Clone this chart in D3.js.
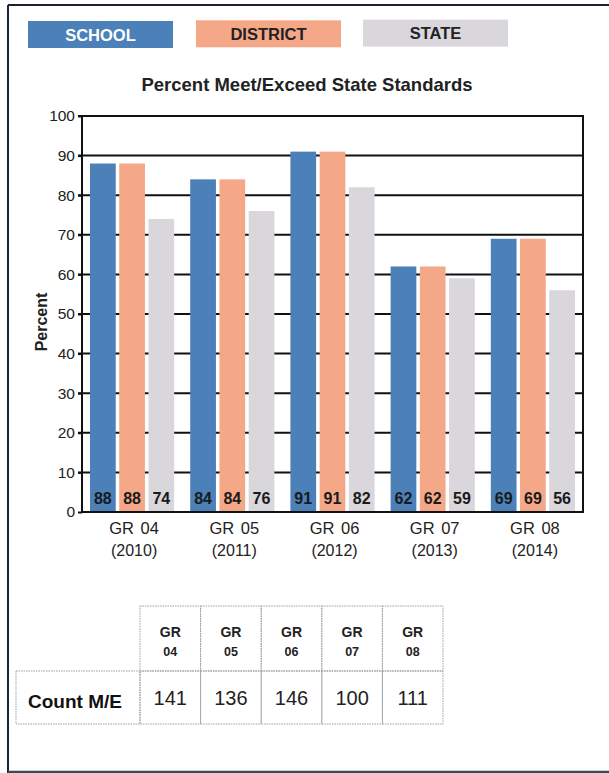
<!DOCTYPE html>
<html>
<head>
<meta charset="utf-8">
<script src="https://cdn.jsdelivr.net/npm/d3@7"></script>
<style>
  html, body { margin: 0; padding: 0; background: #fff; }
  svg { display: block; font-family: "Liberation Sans", Arial, sans-serif; }
</style>
</head>
<body>
<svg id="chart" width="609" height="773"></svg>
<script>
// Grade groups and their test years
const grades = ["GR 04", "GR 05", "GR 06", "GR 07", "GR 08"];
const years = ["(2010)", "(2011)", "(2012)", "(2013)", "(2014)"];
const seriesNames = ["SCHOOL", "DISTRICT", "STATE"];

// Percent meeting / exceeding standards
const school = [88, 84, 91, 62, 69];
const district = [88, 84, 91, 62, 69];
const state = [74, 76, 82, 59, 56];

const yTicks = [0, 10, 20, 30, 40, 50, 60, 70, 80, 90, 100];

// Count meeting / exceeding table
const tableGrades = ["04", "05", "06", "07", "08"];
const counts = [141, 136, 146, 100, 111];

const colors = ["#4b80b8", "#f5a887", "#d9d6dc"];
const textColors = ["#ffffff", "#222222", "#222222"];

const svg = d3.select("#chart");

// page frame
svg.append("line").attr("x1", 8).attr("x2", 609).attr("y1", 5).attr("y2", 5)
  .attr("stroke", "#1b2233").attr("stroke-width", 2);
svg.append("line").attr("x1", 8).attr("x2", 8).attr("y1", 5).attr("y2", 773)
  .attr("stroke", "#1b2540").attr("stroke-width", 2);
svg.append("line").attr("x1", 8).attr("x2", 609).attr("y1", 772).attr("y2", 772)
  .attr("stroke", "#3a4a50").attr("stroke-width", 2.5);

// legend boxes
const legendX = d3.scaleOrdinal().domain(seriesNames).range([28, 196, 363]);
const legend = svg.append("g").selectAll("g").data(seriesNames).join("g")
  .attr("transform", (d, i) => `translate(${legendX(d)},${21 - i * 0.7})`);
legend.append("rect").attr("width", 145).attr("height", 27)
  .attr("fill", (d, i) => colors[i]);
legend.append("text").attr("x", 72.5).attr("y", 19.5)
  .attr("text-anchor", "middle").attr("font-size", 16.5).attr("font-weight", "bold")
  .attr("fill", (d, i) => textColors[i]).text(d => d);

// title
svg.append("text").attr("x", 307).attr("y", 91).attr("text-anchor", "middle")
  .attr("font-size", 18.5).attr("font-weight", "bold").attr("fill", "#222")
  .text("Percent Meet/Exceed State Standards");

// scales
const plot = { left: 82, right: 583, top: 116, bottom: 512 };
const y = d3.scaleLinear().domain([0, 100]).range([plot.bottom, plot.top]);
const x0 = d3.scaleBand().domain(grades).range([plot.left, plot.right])
  .paddingInner(0.16).paddingOuter(0.08);
const x1 = d3.scaleBand().domain(seriesNames).range([0, x0.bandwidth()])
  .paddingInner(0.12).paddingOuter(0);

// horizontal grid lines
svg.append("g").selectAll("line").data(yTicks.filter(t => t > 0)).join("line")
  .attr("x1", plot.left - 4).attr("x2", plot.right)
  .attr("y1", d => y(d)).attr("y2", d => y(d))
  .attr("stroke", "#111").attr("stroke-width", 2);

// y axis
const yAxis = svg.append("g").attr("transform", `translate(${plot.left},0)`)
  .call(d3.axisLeft(y).tickValues(yTicks).tickSize(4).tickPadding(3));
yAxis.select(".domain").remove();
yAxis.selectAll("line").attr("stroke", "#111").attr("stroke-width", 2);
yAxis.selectAll("text").attr("font-size", 15.5).attr("fill", "#222")
  .attr("font-family", "Liberation Sans, Arial, sans-serif");

svg.append("text")
  .attr("transform", `translate(47,${(plot.top + plot.bottom) / 2 + 8}) rotate(-90)`)
  .attr("text-anchor", "middle").attr("font-size", 16).attr("font-weight", "bold")
  .attr("fill", "#222").text("Percent");

// bars
const rows = grades.map((g, i) => ({
  grade: g,
  values: [school[i], district[i], state[i]]
}));
const groups = svg.append("g").selectAll("g").data(rows).join("g")
  .attr("transform", d => `translate(${x0(d.grade)},0)`);
groups.selectAll("rect").data(d => d.values.map((v, i) => ({ key: seriesNames[i], v, i })))
  .join("rect")
  .attr("x", d => x1(d.key)).attr("width", x1.bandwidth())
  .attr("y", d => y(d.v)).attr("height", d => y(0) - y(d.v))
  .attr("fill", d => colors[d.i]);
groups.selectAll("text").data(d => d.values.map((v, i) => ({ key: seriesNames[i], v, i })))
  .join("text")
  .attr("x", d => x1(d.key) + x1.bandwidth() / 2).attr("y", y(0) - 8)
  .attr("text-anchor", "middle").attr("font-size", 16).attr("font-weight", "bold")
  .attr("fill", "#1a1a1a").text(d => d.v);

// plot frame
svg.append("rect").attr("x", plot.left).attr("y", plot.top)
  .attr("width", plot.right - plot.left).attr("height", plot.bottom - plot.top)
  .attr("fill", "none").attr("stroke", "#111").attr("stroke-width", 2);

// x axis labels
const xl = svg.append("g").selectAll("g").data(grades).join("g")
  .attr("transform", d => `translate(${x0(d) + x0.bandwidth() / 2 + 2},0)`);
xl.append("text").attr("y", 534).attr("text-anchor", "middle").attr("font-size", 16.5)
  .attr("word-spacing", 2).attr("fill", "#222").text(d => d);
xl.append("text").attr("y", 556).attr("text-anchor", "middle").attr("font-size", 16)
  .attr("fill", "#222").text((d, i) => years[i]);

// count table
const colX = d3.scaleBand().domain(tableGrades).range([140, 443]);
const headTop = 606, rowTop = 671, rowBottom = 724;
const tbl = svg.append("g");
const cellStroke = "#9aa0aa";
tableGrades.forEach(g => {
  tbl.append("rect").attr("x", colX(g)).attr("y", headTop)
    .attr("width", colX.bandwidth()).attr("height", rowTop - headTop)
    .attr("fill", "none").attr("stroke", cellStroke).attr("stroke-dasharray", "1.5,1");
  tbl.append("rect").attr("x", colX(g)).attr("y", rowTop)
    .attr("width", colX.bandwidth()).attr("height", rowBottom - rowTop)
    .attr("fill", "none").attr("stroke", cellStroke).attr("stroke-dasharray", "1.5,1");
});
tbl.append("rect").attr("x", 16).attr("y", rowTop).attr("width", 124).attr("height", rowBottom - rowTop)
  .attr("fill", "none").attr("stroke", cellStroke).attr("stroke-dasharray", "1.5,1");

tbl.selectAll("text.gr").data(tableGrades).join("text").attr("class", "gr")
  .attr("x", d => colX(d) + colX.bandwidth() / 2).attr("y", 637)
  .attr("text-anchor", "middle").attr("font-size", 14).attr("font-weight", "bold")
  .attr("fill", "#222").text("GR");
tbl.selectAll("text.num").data(tableGrades).join("text").attr("class", "num")
  .attr("x", d => colX(d) + colX.bandwidth() / 2).attr("y", 656)
  .attr("text-anchor", "middle").attr("font-size", 12.5).attr("font-weight", "bold")
  .attr("fill", "#222").text(d => d);

tbl.append("text").attr("x", 28).attr("y", 708).attr("font-size", 19)
  .attr("font-weight", "bold").attr("fill", "#111").text("Count M/E");
tbl.selectAll("text.cnt").data(counts).join("text").attr("class", "cnt")
  .attr("x", (d, i) => colX(tableGrades[i]) + colX.bandwidth() / 2).attr("y", 705)
  .attr("text-anchor", "middle").attr("font-size", 20)
  .attr("fill", "#222").text(d => d);
</script>
</body>
</html>
